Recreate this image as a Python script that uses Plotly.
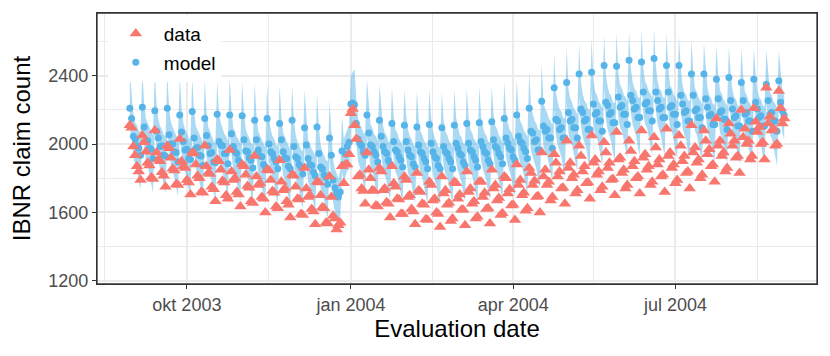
import pandas as pd
from plotly import graph_objects as go

# daily IBNR counts, first day 2003-08-30 (weeks run Mon..Sun after the first two days)
start_date = '2003-08-30'

model_counts = [
    2210, 2150,
    2045, 2030, 1990, 1975, 1935, 2215, 2100,
    2020, 2020, 1975, 1970, 1915, 2195, 2075,
    2035, 1985, 1990, 1935, 1930, 2210, 2055,
    2000, 2000, 1955, 1950, 1895, 2170, 2070,
    2015, 1965, 1970, 1915, 1910, 2190, 2035,
    1975, 1980, 1935, 1930, 1875, 2150, 2050,
    1990, 1945, 1950, 1895, 1890, 2175, 2015,
    1995, 1990, 1945, 1945, 1885, 2170, 2060,
    1985, 1955, 1945, 1905, 1885, 2165, 2025,
    1960, 1955, 1920, 1905, 1860, 2140, 2025,
    1965, 1930, 1925, 1880, 1865, 2150, 2000,
    1955, 1945, 1915, 1895, 1855, 2120, 2025,
    1955, 1920, 1915, 1870, 1855, 2140, 1985,
    1925, 1915, 1880, 1865, 1825, 2095, 1995,
    1915, 1880, 1875, 1835, 1815, 2100, 1945,
    1865, 1855, 1820, 1805, 1765, 2035, 1935,
    1790, 1745, 1715, 1690, 1720, 1960, 1880,
    1940, 1985, 2010, 2235, 2240, 2230, 2120,
    2030, 2005, 1990, 1955, 1935, 2170, 2065,
    1995, 1985, 1955, 1935, 1895, 2140, 2045,
    1985, 1955, 1945, 1905, 1885, 2120, 2015,
    1965, 1955, 1925, 1905, 1865, 2110, 2015,
    1965, 1935, 1925, 1885, 1865, 2100, 1995,
    1955, 1945, 1915, 1895, 1855, 2115, 2005,
    1955, 1925, 1915, 1875, 1855, 2095, 1985,
    1955, 1945, 1915, 1895, 1855, 2110, 2005,
    1975, 1945, 1935, 1895, 1875, 2120, 2005,
    1965, 1955, 1925, 1905, 1865, 2125, 2015,
    1985, 1955, 1945, 1905, 1885, 2130, 2025,
    1985, 1975, 1945, 1925, 1885, 2150, 2035,
    2005, 1975, 1965, 1925, 1905, 2170, 2045,
    2015, 2005, 1975, 1955, 1915, 2210, 2075,
    2065, 2015, 2025, 1965, 1965, 2250, 2105,
    2075, 2085, 2035, 2035, 1975, 2330, 2145,
    2135, 2085, 2095, 2035, 2035, 2360, 2185,
    2135, 2145, 2095, 2095, 2035, 2410, 2205,
    2185, 2135, 2145, 2085, 2085, 2420, 2235,
    2175, 2185, 2135, 2135, 2075, 2460, 2245,
    2225, 2175, 2185, 2125, 2125, 2455, 2275,
    2215, 2225, 2175, 2175, 2115, 2490, 2285,
    2255, 2205, 2215, 2155, 2155, 2480, 2305,
    2235, 2245, 2195, 2195, 2135, 2500, 2305,
    2255, 2205, 2215, 2155, 2155, 2460, 2305,
    2215, 2225, 2175, 2175, 2115, 2460, 2285,
    2235, 2185, 2195, 2135, 2135, 2410, 2285,
    2195, 2205, 2155, 2155, 2095, 2410, 2265,
    2215, 2165, 2175, 2115, 2115, 2380, 2265,
    2185, 2195, 2145, 2145, 2085, 2390, 2255,
    2205, 2155, 2165, 2105, 2105, 2360, 2255,
    2175, 2185, 2135, 2135, 2075, 2380, 2245,
    2205, 2155, 2165, 2105, 2105, 2350, 2255,
    2175, 2185, 2135, 2135, 2075, 2370, 2245,
    2195, 2170,
]

band_hi = [
    2420, 2300,
    2165, 2125, 2110, 2075, 2070, 2425, 2240,
    2150, 2125, 2090, 2070, 2050, 2415, 2235,
    2145, 2105, 2085, 2055, 2045, 2410, 2215,
    2130, 2100, 2070, 2050, 2030, 2395, 2210,
    2125, 2085, 2065, 2035, 2025, 2390, 2195,
    2105, 2080, 2050, 2030, 2010, 2375, 2190,
    2100, 2065, 2045, 2015, 2005, 2370, 2175,
    2125, 2090, 2060, 2045, 2020, 2395, 2200,
    2095, 2075, 2040, 2025, 2000, 2365, 2185,
    2090, 2055, 2035, 2005, 1995, 2360, 2165,
    2075, 2050, 2020, 2000, 1980, 2350, 2160,
    2085, 2045, 2030, 1995, 1990, 2345, 2165,
    2065, 2040, 2010, 1990, 1970, 2340, 2145,
    2055, 2015, 1995, 1965, 1960, 2315, 2135,
    2025, 2000, 1970, 1955, 1930, 2300, 2105,
    1995, 1955, 1935, 1905, 1900, 2255, 2075,
    1910, 1855, 1820, 1800, 1845, 2170, 2030,
    2060, 2095, 2115, 2400, 2420, 2440, 2270,
    2150, 2115, 2095, 2065, 2060, 2380, 2215,
    2115, 2095, 2060, 2045, 2020, 2350, 2195,
    2105, 2065, 2050, 2015, 2010, 2330, 2165,
    2085, 2065, 2030, 2015, 1990, 2320, 2165,
    2085, 2045, 2030, 1995, 1990, 2310, 2145,
    2075, 2055, 2020, 2005, 1980, 2325, 2155,
    2075, 2035, 2020, 1985, 1980, 2305, 2135,
    2075, 2055, 2020, 2005, 1980, 2320, 2155,
    2095, 2055, 2040, 2005, 2000, 2330, 2155,
    2085, 2065, 2030, 2015, 1990, 2335, 2165,
    2105, 2065, 2050, 2015, 2010, 2340, 2175,
    2105, 2085, 2050, 2035, 2010, 2360, 2185,
    2125, 2085, 2070, 2035, 2030, 2380, 2195,
    2135, 2115, 2080, 2065, 2040, 2420, 2225,
    2175, 2135, 2120, 2085, 2080, 2470, 2245,
    2205, 2185, 2150, 2135, 2110, 2530, 2305,
    2245, 2205, 2190, 2155, 2150, 2570, 2325,
    2265, 2245, 2210, 2195, 2170, 2590, 2365,
    2295, 2255, 2240, 2205, 2200, 2620, 2375,
    2305, 2285, 2250, 2235, 2210, 2640, 2405,
    2335, 2295, 2280, 2245, 2240, 2650, 2415,
    2345, 2325, 2290, 2275, 2250, 2660, 2445,
    2365, 2325, 2310, 2275, 2270, 2670, 2445,
    2365, 2345, 2310, 2295, 2270, 2670, 2465,
    2365, 2325, 2310, 2275, 2270, 2650, 2445,
    2345, 2325, 2290, 2275, 2250, 2630, 2445,
    2345, 2305, 2290, 2255, 2250, 2610, 2425,
    2325, 2305, 2270, 2255, 2230, 2590, 2425,
    2325, 2285, 2270, 2235, 2230, 2580, 2405,
    2315, 2295, 2260, 2245, 2220, 2570, 2415,
    2315, 2275, 2260, 2225, 2220, 2560, 2395,
    2305, 2285, 2250, 2235, 2210, 2560, 2405,
    2315, 2275, 2260, 2225, 2220, 2550, 2395,
    2305, 2285, 2250, 2235, 2210, 2550, 2405,
    2315, 2280,
]

band_lo = [
    2090, 2040,
    1915, 1875, 1845, 1775, 1735, 2095, 1980,
    1900, 1875, 1825, 1770, 1715, 2085, 1975,
    1895, 1855, 1820, 1755, 1710, 2080, 1955,
    1880, 1850, 1805, 1750, 1695, 2065, 1950,
    1875, 1835, 1800, 1735, 1690, 2060, 1935,
    1855, 1830, 1785, 1730, 1675, 2045, 1930,
    1850, 1815, 1780, 1715, 1670, 2040, 1915,
    1875, 1840, 1795, 1745, 1685, 2065, 1940,
    1845, 1825, 1775, 1725, 1665, 2035, 1925,
    1840, 1805, 1770, 1705, 1660, 2030, 1905,
    1825, 1800, 1755, 1700, 1645, 2020, 1900,
    1835, 1795, 1765, 1695, 1655, 2015, 1905,
    1815, 1790, 1745, 1690, 1635, 2010, 1885,
    1805, 1765, 1730, 1665, 1625, 1985, 1875,
    1775, 1750, 1705, 1655, 1595, 1970, 1845,
    1745, 1705, 1670, 1605, 1565, 1925, 1815,
    1660, 1605, 1560, 1545, 1550, 1840, 1770,
    1810, 1845, 1850, 2100, 2090, 2110, 2010,
    1900, 1865, 1830, 1765, 1725, 2050, 1955,
    1865, 1845, 1795, 1745, 1685, 2020, 1935,
    1855, 1815, 1785, 1715, 1675, 2000, 1905,
    1835, 1815, 1765, 1715, 1655, 1990, 1905,
    1835, 1795, 1765, 1695, 1655, 1980, 1885,
    1825, 1805, 1755, 1705, 1645, 1995, 1895,
    1825, 1785, 1755, 1685, 1645, 1975, 1875,
    1825, 1805, 1755, 1705, 1645, 1990, 1895,
    1845, 1805, 1775, 1705, 1665, 2000, 1895,
    1835, 1815, 1765, 1715, 1655, 2005, 1905,
    1855, 1815, 1785, 1715, 1675, 2010, 1915,
    1855, 1835, 1785, 1735, 1675, 2030, 1925,
    1875, 1835, 1805, 1735, 1695, 2050, 1935,
    1885, 1865, 1815, 1765, 1705, 2090, 1965,
    1925, 1885, 1855, 1785, 1745, 2140, 1985,
    1955, 1935, 1885, 1835, 1775, 2200, 2045,
    1995, 1955, 1925, 1855, 1815, 2250, 2065,
    2015, 1995, 1945, 1895, 1835, 2280, 2105,
    2045, 2005, 1975, 1905, 1865, 2310, 2115,
    2055, 2035, 1985, 1935, 1875, 2330, 2145,
    2085, 2045, 2015, 1945, 1905, 2350, 2155,
    2095, 2075, 2025, 1975, 1915, 2360, 2185,
    2115, 2075, 2045, 1975, 1935, 2370, 2185,
    2115, 2095, 2045, 1995, 1935, 2370, 2205,
    2115, 2075, 2045, 1975, 1935, 2350, 2185,
    2095, 2075, 2025, 1975, 1915, 2330, 2185,
    2095, 2055, 2025, 1955, 1915, 2300, 2165,
    2075, 2055, 2005, 1955, 1895, 2280, 2165,
    2075, 2035, 2005, 1935, 1895, 2270, 2145,
    2065, 2045, 1995, 1945, 1885, 2260, 2155,
    2065, 2025, 1995, 1925, 1885, 2250, 2135,
    2055, 2035, 1985, 1935, 1875, 2250, 2145,
    2065, 2025, 1995, 1925, 1885, 2240, 2135,
    2055, 2035, 1985, 1935, 1875, 2240, 2145,
    2065, 2030,
]

data_counts = [
    2110, 2095,
    1985, 1935, 1870, 1840, 1790, 2050, 2010,
    1955, 1890, 1875, 1805, 1795, 2080, 1950,
    1910, 1900, 1835, 1815, 1750, 1990, 1975,
    1920, 1855, 1845, 1765, 1760, 2030, 1900,
    1870, 1860, 1790, 1775, 1705, 1950, 1945,
    1880, 1815, 1800, 1720, 1715, 1990, 1870,
    1830, 1825, 1750, 1735, 1665, 1910, 1900,
    1850, 1785, 1775, 1700, 1680, 1965, 1840,
    1790, 1800, 1720, 1705, 1635, 1880, 1870,
    1820, 1755, 1745, 1665, 1655, 1930, 1810,
    1760, 1770, 1690, 1680, 1600, 1850, 1845,
    1790, 1725, 1715, 1635, 1625, 1905, 1780,
    1730, 1740, 1665, 1645, 1570, 1820, 1815,
    1750, 1680, 1675, 1590, 1585, 1860, 1740,
    1690, 1700, 1620, 1605, 1530, 1780, 1775,
    1700, 1630, 1625, 1540, 1535, 1810, 1690,
    1580, 1565, 1500, 1525, 1540, 1870, 1770,
    1880, 1880, 1940, 2180, 2205, 2110, 2030,
    1810, 1820, 1740, 1725, 1650, 1950, 1850,
    1800, 1730, 1725, 1640, 1635, 1860, 1840,
    1730, 1740, 1660, 1650, 1570, 1870, 1770,
    1750, 1680, 1675, 1590, 1590, 1810, 1790,
    1690, 1700, 1620, 1605, 1530, 1830, 1730,
    1720, 1650, 1645, 1560, 1555, 1780, 1760,
    1670, 1680, 1600, 1590, 1515, 1810, 1710,
    1730, 1645, 1655, 1550, 1565, 1780, 1770,
    1680, 1705, 1615, 1615, 1525, 1840, 1720,
    1740, 1650, 1665, 1565, 1575, 1780, 1780,
    1690, 1715, 1620, 1625, 1535, 1850, 1740,
    1760, 1670, 1685, 1585, 1595, 1810, 1800,
    1710, 1735, 1640, 1645, 1555, 1880, 1760,
    1790, 1700, 1715, 1610, 1625, 1860, 1830,
    1760, 1785, 1690, 1695, 1600, 1950, 1810,
    1850, 1760, 1780, 1670, 1690, 1940, 1890,
    1810, 1840, 1740, 1745, 1650, 2020, 1860,
    1890, 1800, 1820, 1710, 1730, 1990, 1930,
    1840, 1870, 1770, 1775, 1680, 2050, 1890,
    1910, 1820, 1840, 1730, 1750, 2010, 1950,
    1860, 1890, 1790, 1795, 1700, 2070, 1910,
    1920, 1830, 1850, 1740, 1760, 2020, 1960,
    1870, 1900, 1800, 1810, 1710, 2080, 1920,
    1940, 1850, 1870, 1760, 1780, 2040, 1980,
    1880, 1910, 1810, 1820, 1720, 2090, 1930,
    1950, 1860, 1880, 1770, 1790, 2050, 1990,
    1900, 1930, 1830, 1840, 1740, 2110, 1950,
    1980, 1890, 1910, 1800, 1820, 2080, 2020,
    1940, 1970, 1870, 1880, 1780, 2150, 1990,
    2020, 1930, 1950, 1840, 1860, 2120, 2060,
    1990, 2020, 1920, 1930, 1830, 2200, 2040,
    2090, 2000, 2020, 1910, 1930, 2210, 2130,
    2070, 2100, 2000, 2010, 1910, 2330, 2120,
    2160, 2080, 2090, 1990, 2000, 2310, 2210,
    2120, 2150,
]

tick_dates = ['2003-10-01', '2004-01-01', '2004-04-01', '2004-07-01']
tick_labels = ['okt 2003', 'jan 2004', 'apr 2004', 'jul 2004']
y_ticks = [1200, 1600, 2000, 2400]

color_data = '#F8766D'
color_model = '#56B4E9'
font_family = 'Liberation Sans, Arial, sans-serif'

dates = pd.date_range(start_date, periods=len(model_counts), freq='D')

fig = go.Figure()
fig.add_trace(go.Scatter(x=dates, y=band_lo, mode='lines', line=dict(width=0),
                         showlegend=False, hoverinfo='skip'))
fig.add_trace(go.Scatter(x=dates, y=band_hi, mode='lines', line=dict(width=0),
                         fill='tonexty', fillcolor='rgba(86,180,233,0.5)',
                         showlegend=False, hoverinfo='skip'))
fig.add_trace(go.Scatter(x=dates, y=model_counts, mode='markers', name='model',
                         marker=dict(symbol='circle', size=7, color=color_model),
                         legendrank=2, legendgroup='b'))
fig.add_trace(go.Scatter(x=dates, y=data_counts, mode='markers', name='data',
                         marker=dict(symbol='triangle-up', size=11, color=color_data),
                         legendrank=1, legendgroup='a'))

grid = '#EBEBEB'
fig.update_xaxes(type='date', range=['2003-08-11 14:00', '2004-09-18 10:00'],
                 tickmode='array', tickvals=tick_dates, ticktext=tick_labels,
                 showgrid=True, gridcolor=grid, gridwidth=1.5,
                 minor=dict(dtick='M3', tick0='2003-08-16', showgrid=True, gridcolor=grid, gridwidth=0.8),
                 ticks='outside', ticklen=4, tickwidth=1.1, tickcolor='#333333',
                 tickfont=dict(size=18, color='#4D4D4D'),
                 showline=True, mirror=True, linecolor='#333333', linewidth=1.3, zeroline=False,
                 title=dict(text='Evaluation date', font=dict(size=24, color='black'), standoff=4))
fig.update_yaxes(range=[1181, 2767], tickmode='array', tickvals=y_ticks,
                 showgrid=True, gridcolor=grid, gridwidth=1.5,
                 minor=dict(dtick=200, tick0=1200, showgrid=True, gridcolor=grid, gridwidth=0.8),
                 ticks='outside', ticklen=4, tickwidth=1.1, tickcolor='#333333',
                 tickfont=dict(size=18, color='#4D4D4D'),
                 showline=True, mirror=True, linecolor='#333333', linewidth=1.3, zeroline=False,
                 title=dict(text='IBNR claim count', font=dict(size=24, color='black'), standoff=12))
# panel border drawn on top, like theme_bw
fig.add_shape(type='rect', xref='paper', yref='paper', x0=0, x1=1, y0=0, y1=1,
              line=dict(color='#333333', width=1.3), layer='above')
# the page body has an 8px margin, so the figure is shrunk by that much
fig.update_layout(
    width=822, height=348,
    margin=dict(l=89, r=13, t=5, b=72),
    paper_bgcolor='white', plot_bgcolor='white',
    font=dict(family=font_family),
    legend=dict(x=0.015, y=0.994, xanchor='left', yanchor='top', bgcolor='white',
                font=dict(size=19, color='black'), tracegroupgap=1, itemwidth=46),
)

fig.write_html('out.html')
